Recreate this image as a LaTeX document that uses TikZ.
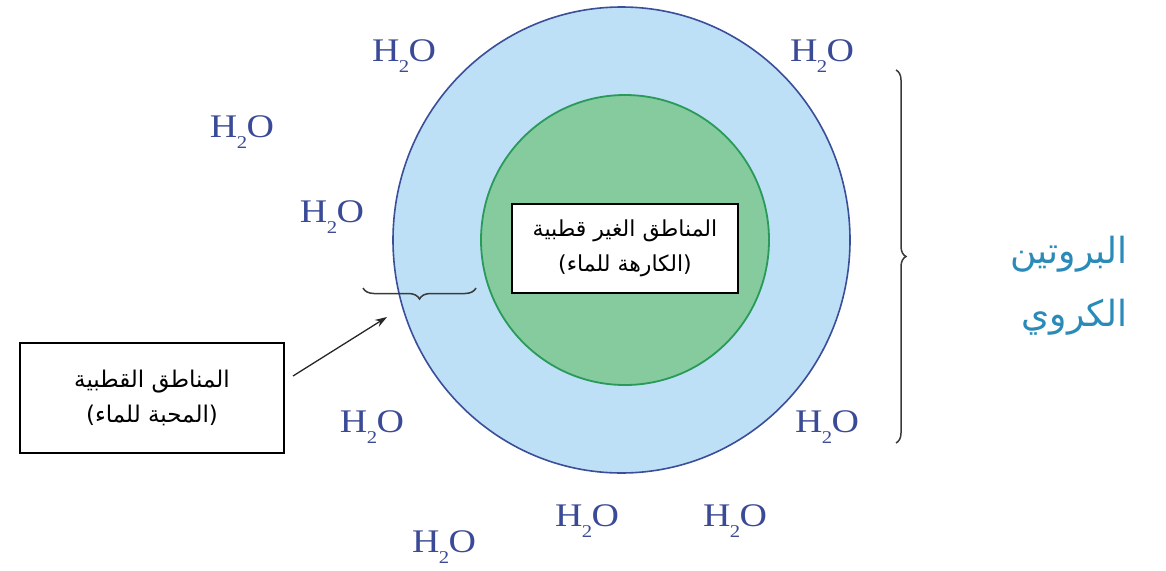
\documentclass[tikz,border=0pt]{standalone}
\usepackage{fontspec}
\setmainfont{Liberation Serif}
\newfontfamily\arabicfont[Script=Arabic]{DejaVu Sans}
\TeXXeTstate=1
\usetikzlibrary{decorations.pathreplacing,arrows.meta,shapes.geometric}
\definecolor{shellfill}{HTML}{BDE0F6}
\definecolor{shellline}{HTML}{3A4E9A}
\definecolor{corefill}{HTML}{85CB9D}
\definecolor{coreline}{HTML}{2A9A5A}
\definecolor{watercol}{HTML}{3B4A96}
\definecolor{protcol}{HTML}{2A8AB8}
\definecolor{bracecol}{HTML}{3A3A3A}
\tikzset{
  water/.style={text=watercol, font=\fontsize{33}{33}\selectfont, inner sep=0pt},
  labelbox/.style={draw=black, line width=2pt, fill=white, align=center, inner sep=0pt},
  bracestyle/.style={draw=bracecol, line width=1.5pt, decorate},
  pointer/.style={-{Stealth[length=12pt,width=8pt]}, line width=1.3pt, draw=black!85}
}
\newcommand{\water}{\scalebox{1.15}[1]{H\kern-0.5pt\raisebox{-11pt}{\fontsize{18}{18}\selectfont 2}\kern-0.5pt O}}
\begin{document}
\begin{tikzpicture}[x=1pt,y=-1pt]
\useasboundingbox (0,0) rectangle (1166,570);
% protein shell and core
\node[draw=shellline, line width=1.6pt, fill=shellfill, ellipse, minimum width=457pt, minimum height=466pt, inner sep=0pt] (shell) at (621.5,240) {};
\node[draw=coreline, line width=1.8pt, fill=corefill, ellipse, minimum width=288pt, minimum height=290pt, inner sep=0pt] (core) at (625,240) {};
% water molecules
\node[water] (w1) at (404,56) {\water};
\node[water] (w2) at (822,56) {\water};
\node[water] (w3) at (242,132) {\water};
\node[water] (w4) at (332,217) {\water};
\node[water] (w5) at (372,427) {\water};
\node[water] (w6) at (827,427) {\water};
\node[water] (w7) at (587,521) {\water};
\node[water] (w8) at (735,521) {\water};
\node[water] (w9) at (444,547) {\water};
% label boxes
\node[labelbox, minimum width=226pt, minimum height=89pt, font=\arabicfont\fontsize{22}{35}\selectfont] (nonpolar) at (625,248.5)
  {\beginR المناطق الغير قطبية\endR\\\beginR (الكارهة للماء)\endR};
\node[labelbox, minimum width=264pt, minimum height=110pt, font=\arabicfont\fontsize{23}{35}\selectfont] (polar) at (152,398)
  {\beginR المناطق القطبية\endR\\\beginR (المحبة للماء)\endR};
\node[text=protcol, align=right, anchor=east, inner sep=0pt, font=\arabicfont\fontsize{36}{63}\selectfont] (protein) at (1128,286)
  {\beginR البروتين\endR\\\beginR الكروي\endR};
% braces
\coordinate (hbA) at (476,288);
\coordinate (hbB) at (363,288);
\draw[bracestyle, decoration={brace, amplitude=11pt}] (hbA) -- (hbB);
\coordinate (vbA) at (896,70);
\coordinate (vbB) at (896,443);
\draw[bracestyle, decoration={brace, amplitude=10pt}] (vbA) -- (vbB);
% pointer
\coordinate (arrtip) at (387,317);
\draw[pointer] ([xshift=8pt,yshift=22pt]polar.east) -- (arrtip);
\end{tikzpicture}
\end{document}
